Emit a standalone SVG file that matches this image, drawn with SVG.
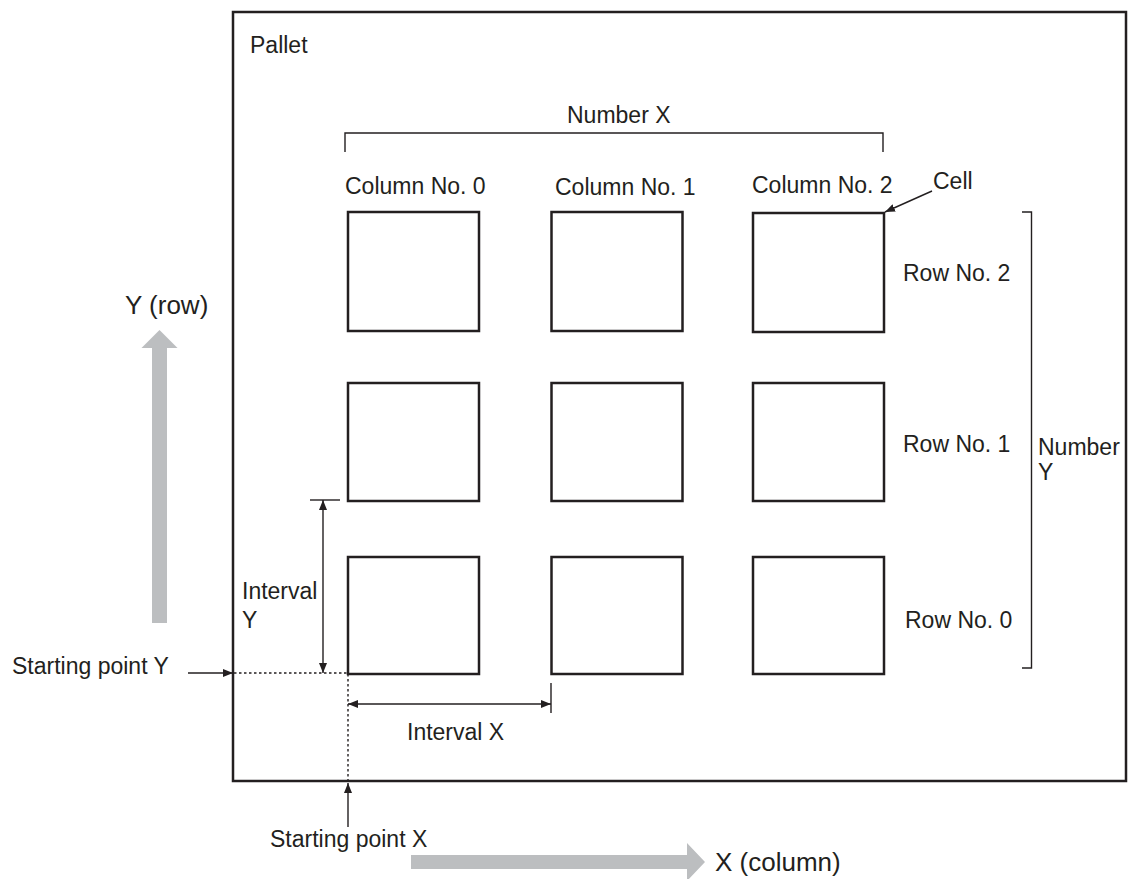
<svg xmlns="http://www.w3.org/2000/svg" width="1130" height="879" viewBox="0 0 1130 879">
<defs>
<style>
text{font-family:"Liberation Sans",Arial,sans-serif;font-size:23px;fill:#231f20}
.ax{font-size:26px}
.cell{fill:#fff;stroke:#231f20;stroke-width:2.5}
.ln{fill:none;stroke:#231f20;stroke-width:1.4}
.dot{fill:none;stroke:#231f20;stroke-width:1.4;stroke-dasharray:2.5 2.5}
.gray{fill:#bcbec0;stroke:none}
</style>
<marker id="ah" viewBox="0 0 10 8" refX="10" refY="4" markerWidth="10" markerHeight="8" markerUnits="userSpaceOnUse" orient="auto">
<path d="M0,0 L10,4 L0,8 Z" fill="#231f20"/>
</marker>
<marker id="as" viewBox="0 0 10 8" refX="0" refY="4" markerWidth="10" markerHeight="8" markerUnits="userSpaceOnUse" orient="auto">
<path d="M10,0 L0,4 L10,8 Z" fill="#231f20"/>
</marker>
</defs>
<rect width="1130" height="879" fill="#fff"/>
<g id="pallet">
<rect x="233" y="12" width="893" height="769" fill="none" stroke="#231f20" stroke-width="2.5"/>
<text x="250" y="53">Pallet</text>
</g>
<g id="axes">
<path class="gray" d="M152,623 L152,348 L141.5,348 L159.5,330 L177.5,348 L167,348 L167,623 Z"/>
<text class="ax" x="125" y="314">Y (row)</text>
<path class="gray" d="M411,855 L687,855 L687,843 L705,862 L687,881 L687,869 L411,869 Z"/>
<text class="ax" x="715" y="871">X (column)</text>
</g>
<g id="cells">
<rect class="cell" x="348" y="212" width="131" height="119"/>
<rect class="cell" x="551.5" y="212" width="131" height="119"/>
<rect class="cell" x="753" y="213" width="131" height="119"/>
<rect class="cell" x="348" y="383" width="131" height="118"/>
<rect class="cell" x="551.5" y="383" width="131" height="118"/>
<rect class="cell" x="753" y="383" width="131" height="118"/>
<rect class="cell" x="348" y="557" width="131" height="117"/>
<rect class="cell" x="551.5" y="557" width="131" height="117"/>
<rect class="cell" x="753" y="557" width="131" height="117"/>
</g>
<g id="labels">
<text x="345" y="194">Column No. 0</text>
<text x="555" y="195">Column No. 1</text>
<text x="752" y="193">Column No. 2</text>
<text x="933" y="189">Cell</text>
<text x="903" y="281">Row No. 2</text>
<text x="903" y="452">Row No. 1</text>
<text x="905" y="628">Row No. 0</text>
<text x="567" y="123">Number X</text>
<text x="1038" y="455">Number</text>
<text x="1038" y="480">Y</text>
<text x="242" y="599">Interval</text>
<text x="242" y="628">Y</text>
<text x="407" y="740">Interval X</text>
<text x="12" y="674">Starting point Y</text>
<text x="270" y="847">Starting point X</text>
</g>
<g id="connectors">
<path class="ln" d="M345,152 L345,133 L883,133 L883,152"/>
<path class="ln" d="M1022,212 L1031.5,212 L1031.5,668 L1022,668"/>
<path class="ln" d="M932,191 L885,212" marker-end="url(#ah)"/>
<path class="ln" d="M310,500 L340,500"/>
<path class="ln" d="M323,500 L323,673" marker-start="url(#as)" marker-end="url(#ah)"/>
<path class="ln" d="M551,683 L551,713"/>
<path class="ln" d="M348,704 L551,704" marker-start="url(#as)" marker-end="url(#ah)"/>
<path class="ln" d="M188,673 L233,673" marker-end="url(#ah)"/>
<path class="dot" d="M234,673 L348,673 L348,781"/>
<path class="ln" d="M348,827 L348,783" marker-end="url(#ah)"/>
</g>
</svg>
